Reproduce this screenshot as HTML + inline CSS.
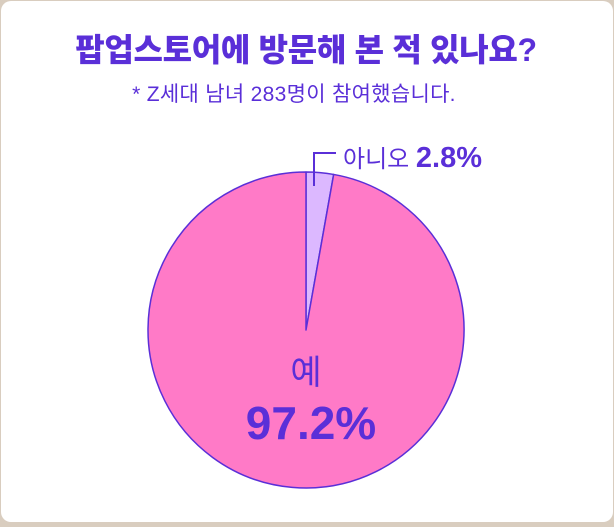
<!DOCTYPE html>
<html><head><meta charset="utf-8"><style>
body{margin:0;width:614px;height:522px;background:#d9cdbf;overflow:hidden;font-family:"Liberation Sans","Noto Sans CJK KR",sans-serif}
#card{position:absolute;left:1px;top:1px;width:612px;height:521px;background:#fff;border-radius:10px}
text{font-family:"Liberation Sans","Noto Sans CJK KR",sans-serif;fill:#5a2fd8}
</style></head><body>
<div id="card">
<svg id="svg" width="612" height="521">
<text x="305" y="60" text-anchor="middle" font-size="32" font-weight="900" letter-spacing="-0.3">팝업스토어에 방문해 본 적 있나요?</text>
<text x="293" y="100" text-anchor="middle" font-size="21" letter-spacing="0.3">* Z세대 남녀 283명이 참여했습니다.</text>
<g id="slices"></g>
<polyline points="313,185 313,152 335,152" fill="none" stroke="#5a2fd8" stroke-width="2"/>
<text x="342" y="166" font-size="24">아니오 <tspan font-weight="bold" font-size="29" id="noVal">2.8%</tspan></text>
<text x="305" y="383" text-anchor="middle" font-size="34">예</text>
<text x="310" y="438" text-anchor="middle" font-size="46" font-weight="bold" id="yesVal">97.2%</text>
</svg></div>
<script>
const categories=["아니오","예"];
const values=[2.8,97.2];
const colors=["#dcb8ff","#ff7ac7"];
const cx=305,cy=329,r=158;
const g=document.getElementById('slices');
const total=values.reduce((a,b)=>a+b,0);
let a0=0;
values.forEach((v,i)=>{
 const a1=a0+v/total*2*Math.PI;
 const p=(a)=>[cx+r*Math.sin(a),cy-r*Math.cos(a)];
 const [x0,y0]=p(a0),[x1,y1]=p(a1);
 const large=(a1-a0)>Math.PI?1:0;
 const path=document.createElementNS('http://www.w3.org/2000/svg','path');
 path.setAttribute('d',`M${cx},${cy}L${x0},${y0}A${r},${r} 0 ${large} 1 ${x1},${y1}Z`);
 path.setAttribute('fill',colors[i]);
 path.setAttribute('stroke','#5a2fd8');
 path.setAttribute('stroke-width','1.5');
 path.setAttribute('stroke-linejoin','round');
 
 
 g.appendChild(path);
 a0=a1;
});
document.getElementById('noVal').textContent=values[0]+'%';
document.getElementById('yesVal').textContent=values[1]+'%';
</script>
</body></html>
